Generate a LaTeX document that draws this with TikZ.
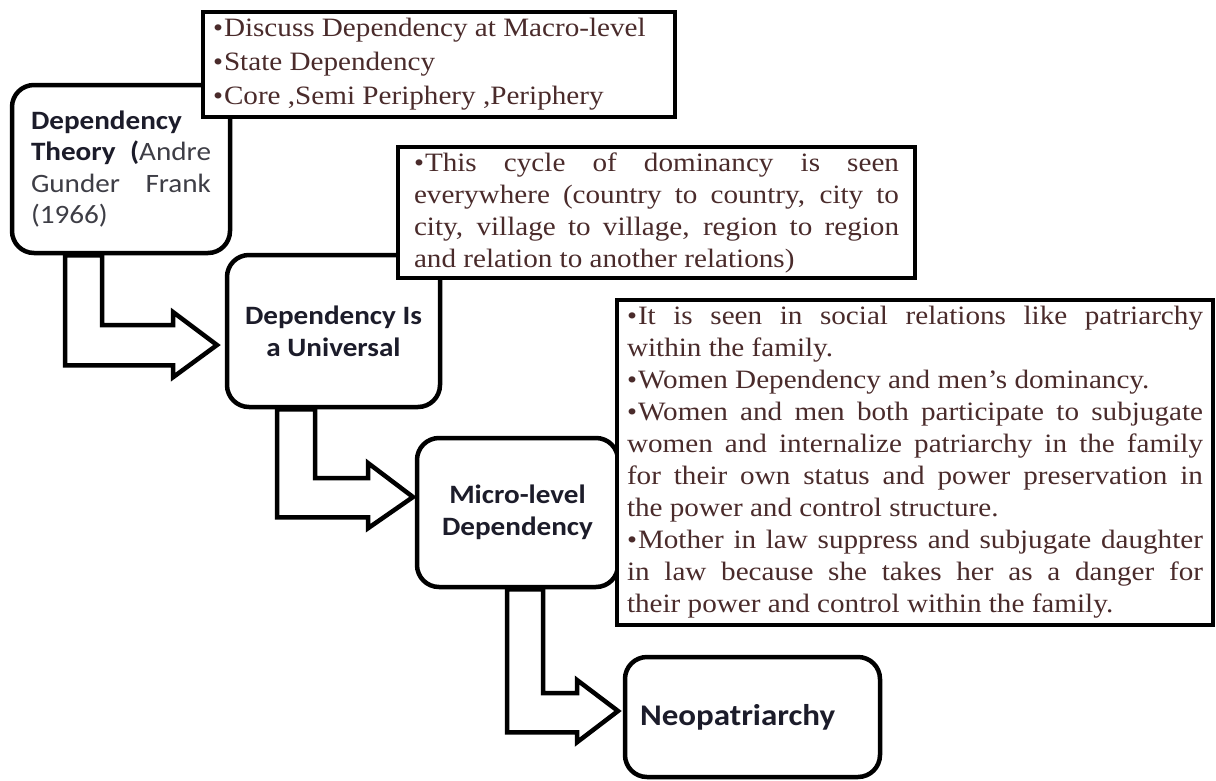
\documentclass[tikz,border=0pt]{standalone}
\usepackage{fontspec}
\newfontfamily\boxfont[FakeStretch=1.1]{Carlito}
\newfontfamily\notefont[FakeStretch=1.1]{Liberation Serif}
\definecolor{inkbox}{HTML}{1C1C2A}
\definecolor{inkgray}{HTML}{3E3E46}
\definecolor{inkserif}{HTML}{4A2B2B}
\newcommand{\bul}{\makebox[11pt][l]{\raisebox{0pt}{\fontsize{26}{26}\selectfont •}}}
\newcommand{\jl}[1]{{\spaceskip=0pt\xspaceskip=0pt\makebox[\linewidth][s]{#1}}\\}

\begin{document}
\begin{tikzpicture}[
    x=1pt, y=-1pt,
    box/.style={rectangle, rounded corners=22pt, draw, line width=4.5pt, fill=white, text=inkbox,
        font=\boxfont\fontsize{26.5}{32}\selectfont},
    boxbold/.style={box, align=center, font=\boxfont\fontsize{26.5}{32}\selectfont\bfseries},
    note/.style={rectangle, draw, line width=4.5pt, fill=white, align=justify, text=inkserif,
        font=\notefont\fontsize{26.5}{32}\selectfont},
    bentarrow/.style={line width=4.5pt, line join=miter, fill=white}
]
    \fill[white] (0,0) rectangle (1216,780);
    \useasboundingbox (0,0) rectangle (1216,780);

    \node[box, minimum width=218pt, minimum height=168pt, text width=180pt, align=justify,
        font=\boxfont\fontsize{26.5}{31.5}\selectfont] (theory) at (121,169)
        {\textbf{Dependency}\\
         \jl{\textbf{Theory (}\textcolor{inkgray}{Andre}}
         \jl{\textcolor{inkgray}{Gunder Frank}}
         \textcolor{inkgray}{(1966)}};
    \node[boxbold, minimum width=213pt, minimum height=152pt] (univ) at (333.5,331)
        {Dependency Is\\a Universal};
    \node[boxbold, minimum width=201pt, minimum height=149pt] (micro) at (517.5,512.5)
        {Micro-level\\Dependency};
    \node[box, minimum width=255pt, minimum height=120pt, text width=225pt, align=left,
        font=\boxfont\fontsize{30}{34}\selectfont\bfseries] (neo) at (752.5,717)
        {Neopatriarchy};

    \node[note, minimum width=472pt, minimum height=105pt, text width=452pt,
        font=\notefont\fontsize{26.5}{34}\selectfont] (macro) at (439,64.5)
        {\bul Discuss Dependency at Macro-level\\
         \bul State Dependency\\
         \bul Core ,Semi Periphery ,Periphery};
    \node[note, minimum width=517pt, minimum height=131pt, text width=485pt] (cycle) at (656.5,212.5)
        {\jl{\bul This cycle of dominancy is seen}
         \jl{everywhere (country to country, city to}
         \jl{city, village to village, region to region}
         and relation to another relations)};
    \node[note, minimum width=596pt, minimum height=325pt, text width=576pt] (family) at (915,462.5)
        {\jl{\bul It is seen in social relations like patriarchy}
         within the family.\\
         \bul Women Dependency and men’s dominancy.\\
         \jl{\bul Women and men both participate to subjugate}
         \jl{women and internalize patriarchy in the family}
         \jl{for their own status and power preservation in}
         the power and control structure.\\
         \jl{\bul Mother in law suppress and subjugate daughter}
         \jl{in law because she takes her as a danger for}
         their power and control within the family.};

    \draw[bentarrow] ([xshift=-56pt]theory.south) -- ++(0,110) -- ++(108,0) -- ++(0,12)
        -- ([xshift=-7.75pt,yshift=-14pt]univ.west) -- ++(-44,-33) -- ++(0,13) -- ++(-71,0)
        -- ([xshift=-19pt]theory.south) -- cycle;
    \draw[bentarrow] ([xshift=-56.5pt]univ.south) -- ++(0,108) -- ++(91,0) -- ++(0,11)
        -- ([xshift=-1.75pt,yshift=15.5pt]micro.west) -- ++(-45,-34) -- ++(0,15) -- ++(-53,0)
        -- ([xshift=-18.5pt]univ.south) -- cycle;
    \draw[bentarrow] ([xshift=-10.5pt]micro.south) -- ++(0,143) -- ++(70,0) -- ++(0,10)
        -- ([xshift=-4.75pt,yshift=6pt]neo.west) -- ++(-41,-31) -- ++(0,13) -- ++(-34,0)
        -- ([xshift=25.5pt]micro.south) -- cycle;
\end{tikzpicture}
\end{document}
